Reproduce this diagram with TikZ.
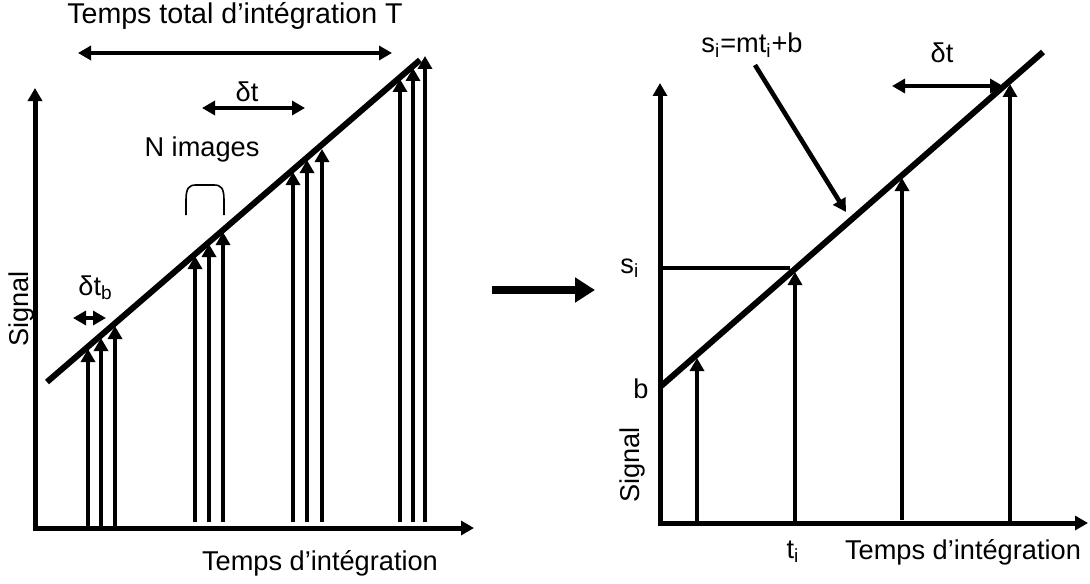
\documentclass[tikz,border=0pt]{standalone}
\usepackage{fontspec}
\setmainfont{Liberation Sans}
\usetikzlibrary{arrows.meta}
\begin{document}
\begin{tikzpicture}[x=0.5pt,y=-0.5pt,
  head/.tip={Triangle[length=6.5pt,width=7pt]},
  bighead/.tip={Triangle[length=10pt,width=12pt]},
  axis/.style={line width=2.5pt, line join=miter, {head}-{head}},
  fitline/.style={line width=3pt},
  sig/.style={line width=2.3pt, -{head}},
  dbl/.style={line width=2.2pt, {head}-{head}},
  thin/.style={line width=0.8pt},
  lbl/.style={font=\fontsize{13.6}{16}\selectfont, inner sep=0pt}]
\useasboundingbox (0,0) rectangle (1090,583);

% ---------------- left panel ----------------
\coordinate (LYT) at (35,88);
\coordinate (LO) at (35,528);
\coordinate (LXT) at (474,528);
\draw[axis] (LYT) -- (LO) -- (LXT);

\coordinate (LF1) at (47,382);
\coordinate (LF2) at (420,60);
\draw[fitline] (LF1) -- (LF2);

\foreach \n/\x/\b/\t in {1/88/528/349, 2/101/528/338, 3/115/528/326,
                          4/195/522/256, 5/209/522/244, 6/223/522/232,
                          7/293/522/172, 8/307/522/160, 9/322/522/149,
                          10/400/522/79, 11/413/522/68, 12/425/522/56} {
  \coordinate (lb\n) at (\x,\b);
  \coordinate (lt\n) at (\x,\t);
  \draw[sig] (lb\n) -- (lt\n);
}

\coordinate (TT1) at (78,53);
\coordinate (TT2) at (392,53);
\draw[dbl] (TT1) -- (TT2);
\node[lbl, font=\fontsize{14.3}{16}\selectfont, anchor=base] (ttot) at (235,24) {Temps total d’intégration T};

\coordinate (DT1) at (202,108);
\coordinate (DT2) at (305,108);
\draw[dbl] (DT1) -- (DT2);
\node[lbl, anchor=base] (dt1) at (247,101) {δt};

\node[lbl, anchor=base] (nimg) at (202,156) {N images};
\coordinate (BR1) at (186,215);
\coordinate (BR2) at (224,215);
\draw[thin] (BR1) -- (186,200) .. controls (186,188) and (189,185) .. (196,185)
  -- (214,185) .. controls (221,185) and (224,188) .. (224,200) -- (BR2);

\coordinate (DB1) at (73,318);
\coordinate (DB2) at (106,318);
\draw[dbl] (DB1) -- (DB2);
\node[lbl, anchor=base west] (dtb) at (78,295) {δt\textsubscript{b}};

\node[lbl, rotate=90] (sigL) at (21,309) {Signal};
\node[lbl, anchor=base] (tempsL) at (320,570) {Temps d’intégration};

% ---------------- middle arrow ----------------
\coordinate (M1) at (492,290);
\coordinate (M2) at (595,290);
\draw[line width=4pt, -{bighead}] (M1) -- (M2);

% ---------------- right panel ----------------
\coordinate (RYT) at (660,83);
\coordinate (RO) at (660,523);
\coordinate (RXT) at (1088,523);
\draw[axis] (RYT) -- (RO) -- (RXT);

\coordinate (RF1) at (660,387);
\coordinate (RF2) at (1043,52);
\draw[fitline] (RF1) -- (RF2);

\foreach \n/\x/\b/\t in {1/697/523/358, 2/795/523/272, 3/902/520/178, 4/1010/523/84} {
  \coordinate (rb\n) at (\x,\b);
  \coordinate (rt\n) at (\x,\t);
  \draw[sig] (rb\n) -- (rt\n);
}

\coordinate (SH1) at (660,268);
\coordinate (SH2) at (790,268);
\draw[line width=2pt] (SH1) -- (SH2);

\coordinate (RD1) at (892,86);
\coordinate (RD2) at (1003,86);
\draw[dbl] (RD1) -- (RD2);
\node[lbl, anchor=base] (dt2) at (942,63) {δt};

\node[lbl, anchor=base] (eq) at (752,53) {s\textsubscript{i}=mt\textsubscript{i}+b};
\coordinate (P1) at (755,65);
\coordinate (P2) at (846,212);
\draw[sig] (P1) -- (P2);

\node[lbl, anchor=base west] (si) at (620,273) {s\textsubscript{i}};
\node[lbl, anchor=base west] (bL) at (633,398) {b};
\node[lbl, rotate=90] (sigR) at (632,465) {Signal};
\node[lbl, anchor=base] (ti) at (793,558) {t\textsubscript{i}};
\node[lbl, anchor=base] (tempsR) at (963,559) {Temps d’intégration};
\end{tikzpicture}
\end{document}
